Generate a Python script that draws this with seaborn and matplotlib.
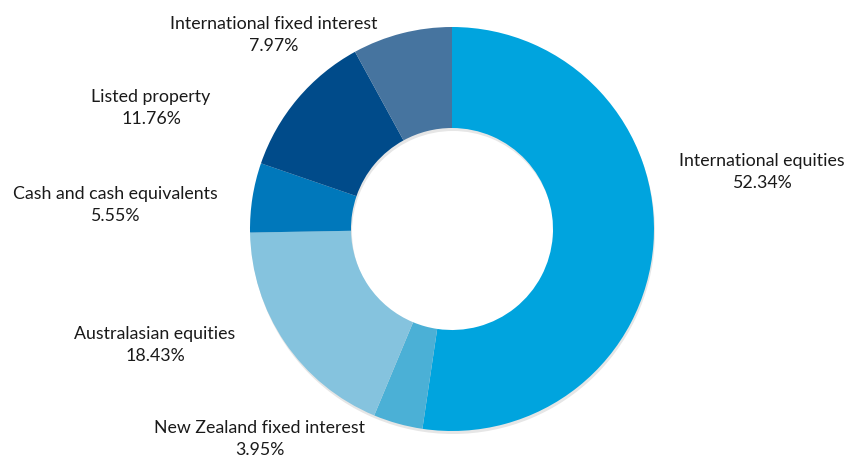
import matplotlib
matplotlib.use("Agg")
import matplotlib.pyplot as plt
import seaborn as sns

# Datos de la cartera
categories = [
    "International equities",
    "New Zealand fixed interest",
    "Australasian equities",
    "Cash and cash equivalents",
    "Listed property",
    "International fixed interest",
]
shares = [52.34, 3.95, 18.43, 5.55, 11.76, 7.97]
colors = ["#00a4de", "#4bb0d6", "#85c3de", "#0078bb", "#004b8a", "#46749f"]

# posiciones de las etiquetas (pixeles, origen arriba-izquierda)
label_xy = [(762, 172), (260, 439), (155, 345), (115, 205), (151, 108), (274, 35)]

sns.set_theme(style="white")
plt.rcParams["font.family"] = ["Lato", "DejaVu Sans"]

W, H = 850, 459
fig = plt.figure(figsize=(W / 100, H / 100), dpi=100)
ax = fig.add_axes([0, 0, 1, 1])

cx, cy, r = 452, H - 229, 202

# sombra suave
ax.pie([1], radius=r, center=(cx + 1, cy - 3), colors=["#e6e6e6"],
       wedgeprops=dict(width=r * 0.5, linewidth=0), frame=True)
ax.pie(shares, radius=r, center=(cx, cy), colors=colors, startangle=90,
       counterclock=False, wedgeprops=dict(width=r * 0.5, linewidth=0), frame=True)
ax.set_xlim(0, W)
ax.set_ylim(0, H)
ax.set_aspect("equal")
ax.axis("off")

for name, val, (lx, ly) in zip(categories, shares, label_xy):
    ax.text(lx, H - ly, f"{name}\n{val:.2f}%", ha="center", va="center",
            fontsize=12.8, color="#1a1a1a", linespacing=1.5)

fig.savefig("out.png", dpi=100)
